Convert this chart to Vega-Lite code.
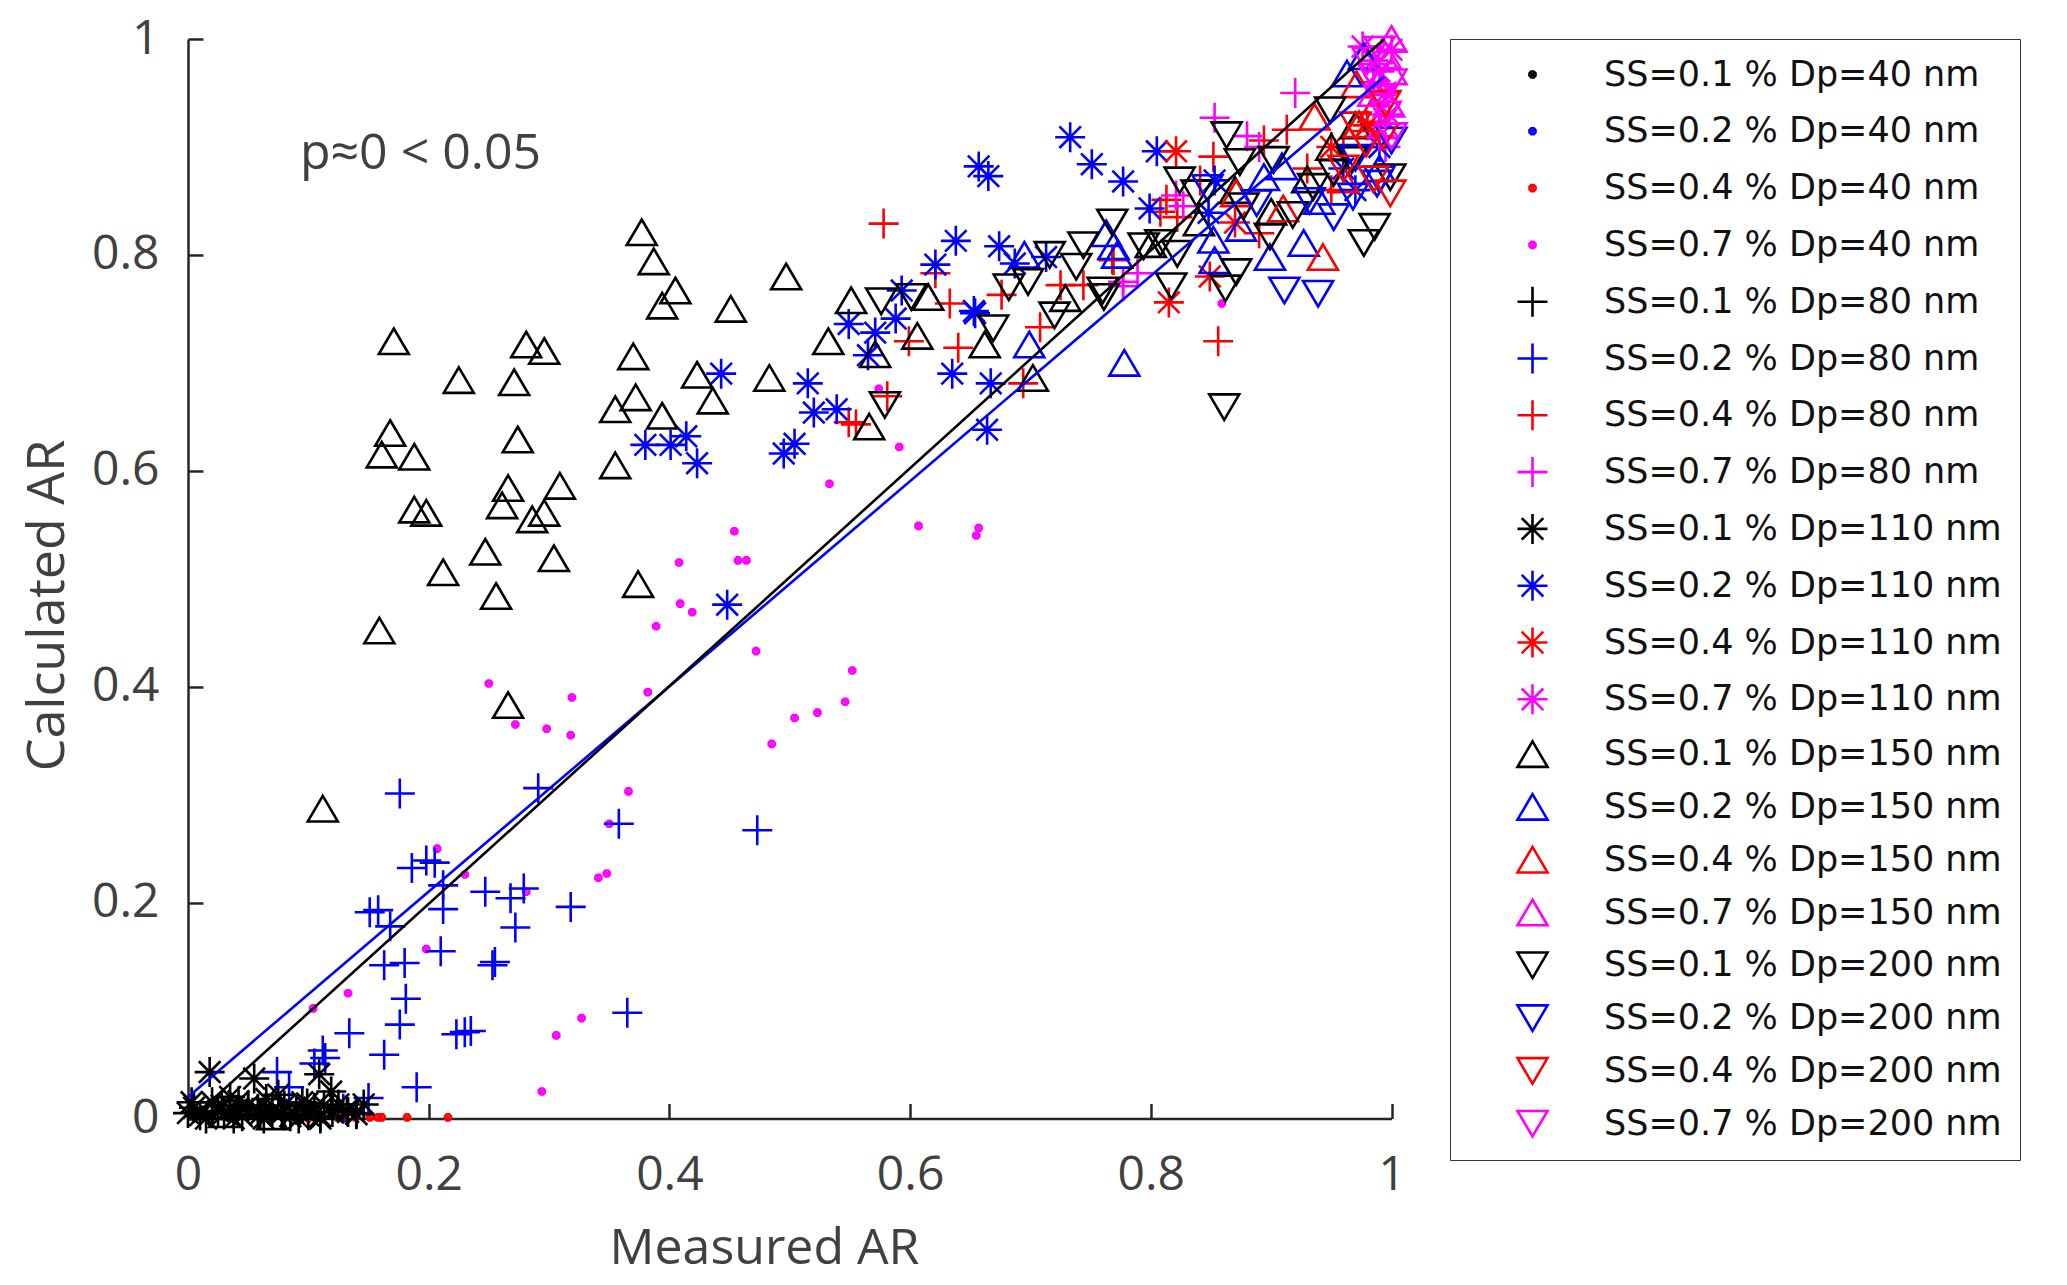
{
  "$schema": "https://vega.github.io/schema/vega-lite/v6.json",
  "width": 1203.5,
  "height": 1079.5,
  "autosize": {"type": "none"},
  "padding": {"left": 188, "top": 39, "right": 675.5, "bottom": 166.5},
  "background": "white",
  "config": {"view": {"stroke": null}, "font": "Open Sans"},
  "layer": [
    {
      "data": {
        "values": [
          {"x": 0.005, "y": 0.002, "g": "0.1|40"}, {"x": 0.02, "y": 0.004, "g": "0.1|40"}, {"x": 0.035, "y": 0.001, "g": "0.1|40"},
          {"x": 0.05, "y": 0.006, "g": "0.1|40"}, {"x": 0.065, "y": 0.003, "g": "0.1|40"}, {"x": 0.08, "y": 0.002, "g": "0.1|40"},
          {"x": 0.1, "y": 0.004, "g": "0.1|40"}, {"x": 0.012, "y": 0.008, "g": "0.1|40"}, {"x": 0.045, "y": 0.01, "g": "0.1|40"},
          {"x": 0.07, "y": 0.0, "g": "0.1|40"},
          {"x": 0.01, "y": 0.003, "g": "0.2|40"}, {"x": 0.03, "y": 0.006, "g": "0.2|40"}, {"x": 0.06, "y": 0.002, "g": "0.2|40"},
          {"x": 0.09, "y": 0.001, "g": "0.2|40"}, {"x": 0.11, "y": 0.003, "g": "0.2|40"},
          {"x": 0.087, "y": 0.001, "g": "0.4|40"}, {"x": 0.1, "y": 0.0, "g": "0.4|40"}, {"x": 0.11, "y": 0.001, "g": "0.4|40"},
          {"x": 0.124, "y": 0.001, "g": "0.4|40"}, {"x": 0.129, "y": 0.0, "g": "0.4|40"}, {"x": 0.139, "y": 0.001, "g": "0.4|40"},
          {"x": 0.151, "y": 0.001, "g": "0.4|40"}, {"x": 0.158, "y": 0.001, "g": "0.4|40"}, {"x": 0.161, "y": 0.001, "g": "0.4|40"},
          {"x": 0.182, "y": 0.001, "g": "0.4|40"}, {"x": 0.216, "y": 0.001, "g": "0.4|40"}, {"x": 0.06, "y": 0.0, "g": "0.4|40"},
          {"x": 0.04, "y": 0.001, "g": "0.4|40"},
          {"x": 0.408, "y": 0.515, "g": "0.7|40"}, {"x": 0.409, "y": 0.477, "g": "0.7|40"}, {"x": 0.419, "y": 0.469, "g": "0.7|40"},
          {"x": 0.389, "y": 0.456, "g": "0.7|40"}, {"x": 0.25, "y": 0.403, "g": "0.7|40"}, {"x": 0.319, "y": 0.39, "g": "0.7|40"},
          {"x": 0.382, "y": 0.395, "g": "0.7|40"}, {"x": 0.272, "y": 0.365, "g": "0.7|40"}, {"x": 0.298, "y": 0.361, "g": "0.7|40"},
          {"x": 0.318, "y": 0.355, "g": "0.7|40"}, {"x": 0.366, "y": 0.303, "g": "0.7|40"}, {"x": 0.35, "y": 0.273, "g": "0.7|40"},
          {"x": 0.207, "y": 0.25, "g": "0.7|40"}, {"x": 0.23, "y": 0.226, "g": "0.7|40"}, {"x": 0.341, "y": 0.223, "g": "0.7|40"},
          {"x": 0.348, "y": 0.227, "g": "0.7|40"}, {"x": 0.281, "y": 0.21, "g": "0.7|40"}, {"x": 0.198, "y": 0.157, "g": "0.7|40"},
          {"x": 0.133, "y": 0.116, "g": "0.7|40"}, {"x": 0.104, "y": 0.102, "g": "0.7|40"}, {"x": 0.327, "y": 0.093, "g": "0.7|40"},
          {"x": 0.306, "y": 0.077, "g": "0.7|40"}, {"x": 0.294, "y": 0.025, "g": "0.7|40"}, {"x": 0.472, "y": 0.433, "g": "0.7|40"},
          {"x": 0.552, "y": 0.415, "g": "0.7|40"}, {"x": 0.546, "y": 0.386, "g": "0.7|40"}, {"x": 0.523, "y": 0.376, "g": "0.7|40"},
          {"x": 0.504, "y": 0.371, "g": "0.7|40"}, {"x": 0.485, "y": 0.347, "g": "0.7|40"}, {"x": 0.457, "y": 0.517, "g": "0.7|40"},
          {"x": 0.464, "y": 0.517, "g": "0.7|40"}, {"x": 0.454, "y": 0.544, "g": "0.7|40"}, {"x": 0.533, "y": 0.588, "g": "0.7|40"},
          {"x": 0.591, "y": 0.622, "g": "0.7|40"}, {"x": 0.574, "y": 0.676, "g": "0.7|40"}, {"x": 0.607, "y": 0.549, "g": "0.7|40"},
          {"x": 0.657, "y": 0.547, "g": "0.7|40"}, {"x": 0.655, "y": 0.54, "g": "0.7|40"}, {"x": 0.859, "y": 0.755, "g": "0.7|40"},
          {"x": 0.02, "y": 0.005, "g": "0.1|80"}, {"x": 0.05, "y": 0.01, "g": "0.1|80"}, {"x": 0.08, "y": 0.003, "g": "0.1|80"},
          {"x": 0.176, "y": 0.301, "g": "0.2|80"}, {"x": 0.291, "y": 0.306, "g": "0.2|80"}, {"x": 0.358, "y": 0.273, "g": "0.2|80"},
          {"x": 0.186, "y": 0.232, "g": "0.2|80"}, {"x": 0.198, "y": 0.239, "g": "0.2|80"}, {"x": 0.205, "y": 0.237, "g": "0.2|80"},
          {"x": 0.212, "y": 0.216, "g": "0.2|80"}, {"x": 0.247, "y": 0.21, "g": "0.2|80"}, {"x": 0.268, "y": 0.204, "g": "0.2|80"},
          {"x": 0.279, "y": 0.213, "g": "0.2|80"}, {"x": 0.318, "y": 0.196, "g": "0.2|80"}, {"x": 0.151, "y": 0.191, "g": "0.2|80"},
          {"x": 0.158, "y": 0.193, "g": "0.2|80"}, {"x": 0.168, "y": 0.178, "g": "0.2|80"}, {"x": 0.212, "y": 0.194, "g": "0.2|80"},
          {"x": 0.272, "y": 0.177, "g": "0.2|80"}, {"x": 0.21, "y": 0.155, "g": "0.2|80"}, {"x": 0.163, "y": 0.142, "g": "0.2|80"},
          {"x": 0.18, "y": 0.144, "g": "0.2|80"}, {"x": 0.253, "y": 0.142, "g": "0.2|80"}, {"x": 0.255, "y": 0.145, "g": "0.2|80"},
          {"x": 0.181, "y": 0.111, "g": "0.2|80"}, {"x": 0.365, "y": 0.098, "g": "0.2|80"}, {"x": 0.134, "y": 0.079, "g": "0.2|80"},
          {"x": 0.176, "y": 0.087, "g": "0.2|80"}, {"x": 0.223, "y": 0.078, "g": "0.2|80"}, {"x": 0.23, "y": 0.08, "g": "0.2|80"},
          {"x": 0.235, "y": 0.081, "g": "0.2|80"}, {"x": 0.114, "y": 0.056, "g": "0.2|80"}, {"x": 0.105, "y": 0.051, "g": "0.2|80"},
          {"x": 0.163, "y": 0.059, "g": "0.2|80"}, {"x": 0.19, "y": 0.029, "g": "0.2|80"}, {"x": 0.074, "y": 0.043, "g": "0.2|80"},
          {"x": 0.084, "y": 0.029, "g": "0.2|80"}, {"x": 0.15, "y": 0.019, "g": "0.2|80"}, {"x": 0.129, "y": 0.009, "g": "0.2|80"},
          {"x": 0.473, "y": 0.267, "g": "0.2|80"}, {"x": 0.14, "y": 0.005, "g": "0.2|80"}, {"x": 0.112, "y": 0.063, "g": "0.2|80"},
          {"x": 0.578, "y": 0.829, "g": "0.4|80"}, {"x": 0.621, "y": 0.783, "g": "0.4|80"}, {"x": 0.633, "y": 0.755, "g": "0.4|80"},
          {"x": 0.599, "y": 0.72, "g": "0.4|80"}, {"x": 0.64, "y": 0.714, "g": "0.4|80"}, {"x": 0.676, "y": 0.763, "g": "0.4|80"},
          {"x": 0.708, "y": 0.733, "g": "0.4|80"}, {"x": 0.725, "y": 0.772, "g": "0.4|80"}, {"x": 0.744, "y": 0.772, "g": "0.4|80"},
          {"x": 0.768, "y": 0.796, "g": "0.4|80"}, {"x": 0.581, "y": 0.669, "g": "0.4|80"}, {"x": 0.549, "y": 0.645, "g": "0.4|80"},
          {"x": 0.555, "y": 0.643, "g": "0.4|80"}, {"x": 0.694, "y": 0.681, "g": "0.4|80"}, {"x": 0.852, "y": 0.891, "g": "0.4|80"},
          {"x": 0.894, "y": 0.906, "g": "0.4|80"}, {"x": 0.913, "y": 0.916, "g": "0.4|80"}, {"x": 0.813, "y": 0.851, "g": "0.4|80"},
          {"x": 0.822, "y": 0.835, "g": "0.4|80"}, {"x": 0.769, "y": 0.795, "g": "0.4|80"}, {"x": 0.808, "y": 0.84, "g": "0.4|80"},
          {"x": 0.841, "y": 0.869, "g": "0.4|80"}, {"x": 0.89, "y": 0.82, "g": "0.4|80"}, {"x": 0.856, "y": 0.72, "g": "0.4|80"},
          {"x": 0.93, "y": 0.88, "g": "0.4|80"}, {"x": 0.96, "y": 0.9, "g": "0.4|80"}, {"x": 0.95, "y": 0.86, "g": "0.4|80"},
          {"x": 0.777, "y": 0.771, "g": "0.7|80"}, {"x": 0.789, "y": 0.783, "g": "0.7|80"}, {"x": 0.92, "y": 0.95, "g": "0.7|80"},
          {"x": 0.853, "y": 0.927, "g": "0.7|80"}, {"x": 0.88, "y": 0.91, "g": "0.7|80"}, {"x": 0.821, "y": 0.855, "g": "0.7|80"},
          {"x": 0.827, "y": 0.845, "g": "0.7|80"}, {"x": 0.777, "y": 0.775, "g": "0.7|80"}, {"x": 0.89, "y": 0.9, "g": "0.7|80"},
          {"x": 0.985, "y": 0.96, "g": "0.7|80"}, {"x": 0.99, "y": 0.93, "g": "0.7|80"}, {"x": 0.995, "y": 0.9, "g": "0.7|80"},
          {"x": 0.018, "y": 0.043, "g": "0.1|110"}, {"x": 0.055, "y": 0.037, "g": "0.1|110"}, {"x": 0.109, "y": 0.041, "g": "0.1|110"},
          {"x": 0.119, "y": 0.025, "g": "0.1|110"}, {"x": 0.146, "y": 0.013, "g": "0.1|110"}, {"x": 0.133, "y": 0.006, "g": "0.1|110"},
          {"x": 0.075, "y": 0.022, "g": "0.1|110"}, {"x": 0.005, "y": 0.01, "g": "0.1|110"}, {"x": 0.01, "y": 0.003, "g": "0.1|110"},
          {"x": 0.02, "y": 0.015, "g": "0.1|110"}, {"x": 0.03, "y": 0.005, "g": "0.1|110"}, {"x": 0.035, "y": 0.02, "g": "0.1|110"},
          {"x": 0.04, "y": 0.008, "g": "0.1|110"}, {"x": 0.045, "y": 0.002, "g": "0.1|110"}, {"x": 0.05, "y": 0.012, "g": "0.1|110"},
          {"x": 0.06, "y": 0.004, "g": "0.1|110"}, {"x": 0.065, "y": 0.018, "g": "0.1|110"}, {"x": 0.07, "y": 0.007, "g": "0.1|110"},
          {"x": 0.08, "y": 0.012, "g": "0.1|110"}, {"x": 0.085, "y": 0.002, "g": "0.1|110"}, {"x": 0.09, "y": 0.008, "g": "0.1|110"},
          {"x": 0.095, "y": 0.015, "g": "0.1|110"}, {"x": 0.1, "y": 0.003, "g": "0.1|110"}, {"x": 0.105, "y": 0.01, "g": "0.1|110"},
          {"x": 0.11, "y": 0.002, "g": "0.1|110"}, {"x": 0.12, "y": 0.006, "g": "0.1|110"}, {"x": 0.125, "y": 0.013, "g": "0.1|110"},
          {"x": 0.015, "y": 0.0, "g": "0.1|110"}, {"x": 0.025, "y": 0.007, "g": "0.1|110"}, {"x": 0.0, "y": 0.005, "g": "0.1|110"},
          {"x": 0.003, "y": 0.015, "g": "0.1|110"}, {"x": 0.028, "y": 0.012, "g": "0.1|110"}, {"x": 0.042, "y": 0.016, "g": "0.1|110"},
          {"x": 0.058, "y": 0.009, "g": "0.1|110"}, {"x": 0.078, "y": 0.005, "g": "0.1|110"}, {"x": 0.092, "y": 0.0, "g": "0.1|110"},
          {"x": 0.113, "y": 0.012, "g": "0.1|110"}, {"x": 0.14, "y": 0.004, "g": "0.1|110"}, {"x": 0.063, "y": 0.0, "g": "0.1|110"},
          {"x": 0.038, "y": 0.0, "g": "0.1|110"}, {"x": 0.132, "y": 0.008, "g": "0.1|110"}, {"x": 0.11, "y": 0.0, "g": "0.1|110"},
          {"x": 0.099, "y": 0.014, "g": "0.1|110"},
          {"x": 0.38, "y": 0.624, "g": "0.2|110"}, {"x": 0.401, "y": 0.624, "g": "0.2|110"}, {"x": 0.414, "y": 0.632, "g": "0.2|110"},
          {"x": 0.423, "y": 0.607, "g": "0.2|110"}, {"x": 0.448, "y": 0.476, "g": "0.2|110"}, {"x": 0.733, "y": 0.909, "g": "0.2|110"},
          {"x": 0.751, "y": 0.884, "g": "0.2|110"}, {"x": 0.777, "y": 0.868, "g": "0.2|110"}, {"x": 0.799, "y": 0.843, "g": "0.2|110"},
          {"x": 0.805, "y": 0.896, "g": "0.2|110"}, {"x": 0.657, "y": 0.882, "g": "0.2|110"}, {"x": 0.665, "y": 0.873, "g": "0.2|110"},
          {"x": 0.638, "y": 0.813, "g": "0.2|110"}, {"x": 0.621, "y": 0.791, "g": "0.2|110"}, {"x": 0.674, "y": 0.808, "g": "0.2|110"},
          {"x": 0.687, "y": 0.792, "g": "0.2|110"}, {"x": 0.713, "y": 0.798, "g": "0.2|110"}, {"x": 0.593, "y": 0.767, "g": "0.2|110"},
          {"x": 0.588, "y": 0.741, "g": "0.2|110"}, {"x": 0.549, "y": 0.736, "g": "0.2|110"}, {"x": 0.571, "y": 0.728, "g": "0.2|110"},
          {"x": 0.565, "y": 0.707, "g": "0.2|110"}, {"x": 0.653, "y": 0.748, "g": "0.2|110"}, {"x": 0.654, "y": 0.746, "g": "0.2|110"},
          {"x": 0.443, "y": 0.69, "g": "0.2|110"}, {"x": 0.515, "y": 0.681, "g": "0.2|110"}, {"x": 0.52, "y": 0.654, "g": "0.2|110"},
          {"x": 0.539, "y": 0.657, "g": "0.2|110"}, {"x": 0.495, "y": 0.616, "g": "0.2|110"}, {"x": 0.504, "y": 0.625, "g": "0.2|110"},
          {"x": 0.635, "y": 0.69, "g": "0.2|110"}, {"x": 0.667, "y": 0.681, "g": "0.2|110"}, {"x": 0.664, "y": 0.638, "g": "0.2|110"},
          {"x": 0.853, "y": 0.869, "g": "0.2|110"}, {"x": 0.848, "y": 0.839, "g": "0.2|110"}, {"x": 0.96, "y": 0.88, "g": "0.2|110"},
          {"x": 0.99, "y": 0.9, "g": "0.2|110"}, {"x": 0.97, "y": 0.86, "g": "0.2|110"},
          {"x": 0.821, "y": 0.896, "g": "0.4|110"}, {"x": 0.815, "y": 0.756, "g": "0.4|110"}, {"x": 0.849, "y": 0.78, "g": "0.4|110"},
          {"x": 0.87, "y": 0.83, "g": "0.4|110"}, {"x": 0.95, "y": 0.9, "g": "0.4|110"}, {"x": 0.98, "y": 0.92, "g": "0.4|110"},
          {"x": 0.976, "y": 0.993, "g": "0.7|110"}, {"x": 0.99, "y": 0.97, "g": "0.7|110"}, {"x": 0.995, "y": 0.95, "g": "0.7|110"},
          {"x": 0.985, "y": 0.98, "g": "0.7|110"}, {"x": 1.0, "y": 0.99, "g": "0.7|110"}, {"x": 0.998, "y": 0.93, "g": "0.7|110"},
          {"x": 0.99, "y": 0.91, "g": "0.7|110"},
          {"x": 0.377, "y": 0.821, "g": "0.1|150"}, {"x": 0.387, "y": 0.794, "g": "0.1|150"}, {"x": 0.405, "y": 0.767, "g": "0.1|150"},
          {"x": 0.394, "y": 0.753, "g": "0.1|150"}, {"x": 0.171, "y": 0.72, "g": "0.1|150"}, {"x": 0.281, "y": 0.717, "g": "0.1|150"},
          {"x": 0.296, "y": 0.711, "g": "0.1|150"}, {"x": 0.37, "y": 0.706, "g": "0.1|150"}, {"x": 0.423, "y": 0.689, "g": "0.1|150"},
          {"x": 0.225, "y": 0.684, "g": "0.1|150"}, {"x": 0.271, "y": 0.682, "g": "0.1|150"}, {"x": 0.372, "y": 0.668, "g": "0.1|150"},
          {"x": 0.436, "y": 0.665, "g": "0.1|150"}, {"x": 0.355, "y": 0.657, "g": "0.1|150"}, {"x": 0.394, "y": 0.651, "g": "0.1|150"},
          {"x": 0.168, "y": 0.635, "g": "0.1|150"}, {"x": 0.161, "y": 0.615, "g": "0.1|150"}, {"x": 0.188, "y": 0.613, "g": "0.1|150"},
          {"x": 0.274, "y": 0.629, "g": "0.1|150"}, {"x": 0.355, "y": 0.605, "g": "0.1|150"}, {"x": 0.266, "y": 0.584, "g": "0.1|150"},
          {"x": 0.309, "y": 0.586, "g": "0.1|150"}, {"x": 0.261, "y": 0.568, "g": "0.1|150"}, {"x": 0.188, "y": 0.564, "g": "0.1|150"},
          {"x": 0.198, "y": 0.561, "g": "0.1|150"}, {"x": 0.296, "y": 0.561, "g": "0.1|150"}, {"x": 0.286, "y": 0.555, "g": "0.1|150"},
          {"x": 0.247, "y": 0.525, "g": "0.1|150"}, {"x": 0.304, "y": 0.519, "g": "0.1|150"}, {"x": 0.212, "y": 0.506, "g": "0.1|150"},
          {"x": 0.256, "y": 0.484, "g": "0.1|150"}, {"x": 0.374, "y": 0.495, "g": "0.1|150"}, {"x": 0.159, "y": 0.452, "g": "0.1|150"},
          {"x": 0.266, "y": 0.383, "g": "0.1|150"}, {"x": 0.112, "y": 0.287, "g": "0.1|150"}, {"x": 0.497, "y": 0.78, "g": "0.1|150"},
          {"x": 0.451, "y": 0.75, "g": "0.1|150"}, {"x": 0.551, "y": 0.758, "g": "0.1|150"}, {"x": 0.615, "y": 0.761, "g": "0.1|150"},
          {"x": 0.532, "y": 0.72, "g": "0.1|150"}, {"x": 0.606, "y": 0.725, "g": "0.1|150"}, {"x": 0.571, "y": 0.708, "g": "0.1|150"},
          {"x": 0.483, "y": 0.686, "g": "0.1|150"}, {"x": 0.566, "y": 0.641, "g": "0.1|150"}, {"x": 0.662, "y": 0.717, "g": "0.1|150"},
          {"x": 0.702, "y": 0.686, "g": "0.1|150"}, {"x": 0.729, "y": 0.76, "g": "0.1|150"}, {"x": 0.8, "y": 0.81, "g": "0.1|150"},
          {"x": 0.84, "y": 0.83, "g": "0.1|150"}, {"x": 0.87, "y": 0.86, "g": "0.1|150"}, {"x": 0.9, "y": 0.84, "g": "0.1|150"},
          {"x": 0.93, "y": 0.87, "g": "0.1|150"}, {"x": 0.95, "y": 0.9, "g": "0.1|150"}, {"x": 0.97, "y": 0.92, "g": "0.1|150"},
          {"x": 0.03, "y": 0.004, "g": "0.1|150"}, {"x": 0.07, "y": 0.002, "g": "0.1|150"},
          {"x": 0.699, "y": 0.717, "g": "0.2|150"}, {"x": 0.778, "y": 0.7, "g": "0.2|150"}, {"x": 0.695, "y": 0.8, "g": "0.2|150"},
          {"x": 0.763, "y": 0.82, "g": "0.2|150"}, {"x": 0.772, "y": 0.8, "g": "0.2|150"}, {"x": 0.963, "y": 0.968, "g": "0.2|150"},
          {"x": 0.977, "y": 0.984, "g": "0.2|150"}, {"x": 0.852, "y": 0.814, "g": "0.2|150"}, {"x": 0.853, "y": 0.795, "g": "0.2|150"},
          {"x": 0.899, "y": 0.798, "g": "0.2|150"}, {"x": 0.927, "y": 0.811, "g": "0.2|150"}, {"x": 0.875, "y": 0.825, "g": "0.2|150"},
          {"x": 0.769, "y": 0.808, "g": "0.2|150"}, {"x": 0.894, "y": 0.872, "g": "0.2|150"}, {"x": 0.909, "y": 0.882, "g": "0.2|150"},
          {"x": 0.94, "y": 0.85, "g": "0.2|150"}, {"x": 0.99, "y": 0.88, "g": "0.2|150"},
          {"x": 0.943, "y": 0.798, "g": "0.4|150"}, {"x": 0.936, "y": 0.928, "g": "0.4|150"}, {"x": 0.871, "y": 0.857, "g": "0.4|150"},
          {"x": 0.973, "y": 0.921, "g": "0.4|150"}, {"x": 0.971, "y": 0.958, "g": "0.4|150"}, {"x": 0.985, "y": 0.935, "g": "0.4|150"},
          {"x": 0.91, "y": 0.843, "g": "0.4|150"}, {"x": 0.96, "y": 0.87, "g": "0.4|150"},
          {"x": 1.0, "y": 1.0, "g": "0.7|150"}, {"x": 0.995, "y": 0.985, "g": "0.7|150"}, {"x": 0.99, "y": 0.96, "g": "0.7|150"},
          {"x": 0.998, "y": 0.94, "g": "0.7|150"}, {"x": 0.985, "y": 0.95, "g": "0.7|150"}, {"x": 0.993, "y": 0.92, "g": "0.7|150"},
          {"x": 1.0, "y": 0.97, "g": "0.7|150"},
          {"x": 0.576, "y": 0.757, "g": "0.1|200"}, {"x": 0.601, "y": 0.761, "g": "0.1|200"}, {"x": 0.579, "y": 0.661, "g": "0.1|200"},
          {"x": 0.669, "y": 0.732, "g": "0.1|200"}, {"x": 0.682, "y": 0.77, "g": "0.1|200"}, {"x": 0.698, "y": 0.775, "g": "0.1|200"},
          {"x": 0.716, "y": 0.8, "g": "0.1|200"}, {"x": 0.738, "y": 0.789, "g": "0.1|200"}, {"x": 0.744, "y": 0.809, "g": "0.1|200"},
          {"x": 0.72, "y": 0.744, "g": "0.1|200"}, {"x": 0.76, "y": 0.767, "g": "0.1|200"}, {"x": 0.768, "y": 0.83, "g": "0.1|200"},
          {"x": 0.794, "y": 0.808, "g": "0.1|200"}, {"x": 0.863, "y": 0.911, "g": "0.1|200"}, {"x": 0.874, "y": 0.886, "g": "0.1|200"},
          {"x": 0.824, "y": 0.869, "g": "0.1|200"}, {"x": 0.838, "y": 0.857, "g": "0.1|200"}, {"x": 0.902, "y": 0.888, "g": "0.1|200"},
          {"x": 0.949, "y": 0.934, "g": "0.1|200"}, {"x": 0.935, "y": 0.863, "g": "0.1|200"}, {"x": 0.952, "y": 0.876, "g": "0.1|200"},
          {"x": 0.967, "y": 0.888, "g": "0.1|200"}, {"x": 0.877, "y": 0.845, "g": "0.1|200"}, {"x": 0.871, "y": 0.784, "g": "0.1|200"},
          {"x": 0.899, "y": 0.817, "g": "0.1|200"}, {"x": 0.918, "y": 0.837, "g": "0.1|200"}, {"x": 0.977, "y": 0.811, "g": "0.1|200"},
          {"x": 0.986, "y": 0.826, "g": "0.1|200"}, {"x": 0.999, "y": 0.872, "g": "0.1|200"}, {"x": 0.817, "y": 0.771, "g": "0.1|200"},
          {"x": 0.862, "y": 0.769, "g": "0.1|200"}, {"x": 0.808, "y": 0.811, "g": "0.1|200"}, {"x": 0.822, "y": 0.801, "g": "0.1|200"},
          {"x": 0.761, "y": 0.761, "g": "0.1|200"}, {"x": 0.861, "y": 0.659, "g": "0.1|200"},
          {"x": 0.911, "y": 0.767, "g": "0.2|200"}, {"x": 0.939, "y": 0.764, "g": "0.2|200"}, {"x": 0.952, "y": 0.835, "g": "0.2|200"},
          {"x": 0.968, "y": 0.854, "g": "0.2|200"}, {"x": 0.988, "y": 0.866, "g": "0.2|200"}, {"x": 1.0, "y": 0.906, "g": "0.2|200"},
          {"x": 0.932, "y": 0.85, "g": "0.2|200"}, {"x": 0.888, "y": 0.848, "g": "0.2|200"}, {"x": 0.847, "y": 0.862, "g": "0.2|200"},
          {"x": 0.97, "y": 0.89, "g": "0.2|200"}, {"x": 0.99, "y": 0.87, "g": "0.2|200"},
          {"x": 0.999, "y": 0.857, "g": "0.4|200"}, {"x": 0.979, "y": 0.903, "g": "0.4|200"}, {"x": 0.993, "y": 0.91, "g": "0.4|200"},
          {"x": 0.97, "y": 0.92, "g": "0.4|200"}, {"x": 0.96, "y": 0.88, "g": "0.4|200"}, {"x": 0.985, "y": 0.87, "g": "0.4|200"},
          {"x": 0.995, "y": 0.94, "g": "0.4|200"},
          {"x": 0.99, "y": 0.99, "g": "0.7|200"}, {"x": 1.0, "y": 0.96, "g": "0.7|200"}, {"x": 0.995, "y": 0.93, "g": "0.7|200"},
          {"x": 0.985, "y": 0.965, "g": "0.7|200"}, {"x": 1.0, "y": 0.91, "g": "0.7|200"}, {"x": 0.99, "y": 0.945, "g": "0.7|200"},
          {"x": 0.98, "y": 0.98, "g": "0.7|200"}
        ]
      },
      "mark": {"type": "point", "filled": false, "size": 900, "strokeWidth": 2.6, "opacity": 1},
      "encoding": {
        "x": {
          "field": "x", "type": "quantitative",
          "scale": {"domain": [0, 1], "nice": false, "zero": false},
          "axis": {
            "values": [0, 0.2, 0.4, 0.6, 0.8, 1], "format": "~g", "grid": false,
            "title": "Measured AR", "titleFontSize": 50, "titleFontWeight": "normal", "titleColor": "#404040",
            "titleX": 576, "titleY": 145, "titleBaseline": "alphabetic",
            "labelFontSize": 48, "labelColor": "#404040", "labelPadding": 48, "labelFlush": false, "labelOverlap": false,
            "tickSize": -15, "tickWidth": 2.5, "tickColor": "#262626", "domainColor": "#262626", "domainWidth": 2.5
          }
        },
        "y": {
          "field": "y", "type": "quantitative",
          "scale": {"domain": [0, 1], "nice": false, "zero": false},
          "axis": {
            "values": [0, 0.2, 0.4, 0.6, 0.8, 1], "format": "~g", "grid": false,
            "title": "Calculated AR", "titleFontSize": 52, "titleFontWeight": "normal", "titleColor": "#404040",
            "titleX": -125, "titleY": 566, "titleBaseline": "alphabetic",
            "labelFontSize": 48, "labelColor": "#404040", "labelPadding": 44, "labelFlush": false, "labelOverlap": false,
            "tickSize": -15, "tickWidth": 2.5, "tickColor": "#262626", "domainColor": "#262626", "domainWidth": 2.5
          }
        },
        "color": {
          "field": "g", "type": "nominal",
          "scale": {
            "domain": ["0.1|40", "0.2|40", "0.4|40", "0.7|40", "0.1|80", "0.2|80", "0.4|80", "0.7|80", "0.1|110", "0.2|110", "0.4|110", "0.7|110", "0.1|150", "0.2|150", "0.4|150", "0.7|150", "0.1|200", "0.2|200", "0.4|200", "0.7|200"],
            "range": ["#000000", "#0000ff", "#ff0000", "#ff00ff", "#000000", "#0000ff", "#ff0000", "#ff00ff", "#000000", "#0000ff", "#ff0000", "#ff00ff", "#000000", "#0000ff", "#ff0000", "#ff00ff", "#000000", "#0000ff", "#ff0000", "#ff00ff"]
          },
          "legend": {
            "title": null, "orient": "none", "legendX": 1262, "legendY": 0,
            "labelExpr": "'SS=' + split(datum.label, '|')[0] + ' % Dp=' + split(datum.label, '|')[1] + ' nm'",
            "labelFont": "DejaVu Sans", "labelFontSize": 35, "labelColor": "#111111", "labelLimit": 700,
            "symbolSize": 900, "symbolStrokeWidth": 2.6, "symbolOffset": 47, "labelOffset": 54,
            "padding": 18, "rowPadding": 15.8, "strokeColor": "#333333", "fillColor": "white"
          }
        },
        "shape": {
          "field": "g", "type": "nominal",
          "scale": {
            "domain": ["0.1|40", "0.2|40", "0.4|40", "0.7|40", "0.1|80", "0.2|80", "0.4|80", "0.7|80", "0.1|110", "0.2|110", "0.4|110", "0.7|110", "0.1|150", "0.2|150", "0.4|150", "0.7|150", "0.1|200", "0.2|200", "0.4|200", "0.7|200"],
            "range": [
              "M-1,-1M1,1M-0.2,-0.083L-0.083,-0.2L0.083,-0.2L0.2,-0.083L0.2,0.083L0.083,0.2L-0.083,0.2L-0.2,0.083ZM-0.1,0H0.1M0,-0.1V0.1", "M-1,-1M1,1M-0.2,-0.083L-0.083,-0.2L0.083,-0.2L0.2,-0.083L0.2,0.083L0.083,0.2L-0.083,0.2L-0.2,0.083ZM-0.1,0H0.1M0,-0.1V0.1", "M-1,-1M1,1M-0.2,-0.083L-0.083,-0.2L0.083,-0.2L0.2,-0.083L0.2,0.083L0.083,0.2L-0.083,0.2L-0.2,0.083ZM-0.1,0H0.1M0,-0.1V0.1", "M-1,-1M1,1M-0.2,-0.083L-0.083,-0.2L0.083,-0.2L0.2,-0.083L0.2,0.083L0.083,0.2L-0.083,0.2L-0.2,0.083ZM-0.1,0H0.1M0,-0.1V0.1",
              "M-1,0H1M0,-1V1", "M-1,0H1M0,-1V1", "M-1,0H1M0,-1V1", "M-1,0H1M0,-1V1",
              "M-1,0H1M0,-1V1M-0.72,-0.72L0.72,0.72M-0.72,0.72L0.72,-0.72", "M-1,0H1M0,-1V1M-0.72,-0.72L0.72,0.72M-0.72,0.72L0.72,-0.72", "M-1,0H1M0,-1V1M-0.72,-0.72L0.72,0.72M-0.72,0.72L0.72,-0.72", "M-1,0H1M0,-1V1M-0.72,-0.72L0.72,0.72M-0.72,0.72L0.72,-0.72",
              "M0,-0.85L1,0.85L-1,0.85Z", "M0,-0.85L1,0.85L-1,0.85Z", "M0,-0.85L1,0.85L-1,0.85Z", "M0,-0.85L1,0.85L-1,0.85Z",
              "M0,0.85L1,-0.85L-1,-0.85Z", "M0,0.85L1,-0.85L-1,-0.85Z", "M0,0.85L1,-0.85L-1,-0.85Z", "M0,0.85L1,-0.85L-1,-0.85Z"
            ]
          },
          "legend": {
            "title": null, "orient": "none", "legendX": 1262, "legendY": 0,
            "labelExpr": "'SS=' + split(datum.label, '|')[0] + ' % Dp=' + split(datum.label, '|')[1] + ' nm'",
            "labelFont": "DejaVu Sans", "labelFontSize": 35, "labelColor": "#111111", "labelLimit": 700,
            "symbolSize": 900, "symbolStrokeWidth": 2.6, "symbolOffset": 47, "labelOffset": 54,
            "padding": 18, "rowPadding": 15.8, "strokeColor": "#333333", "fillColor": "white"
          }
        }
      }
    },
    {
      "data": {
        "values": [
          {"x": 0.0, "y": 0.02, "c": "#0000ff"}, {"x": 0.994, "y": 0.965, "c": "#0000ff"},
          {"x": 0.003, "y": 0.0, "c": "#000000"}, {"x": 0.994, "y": 1.0, "c": "#000000"}
        ]
      },
      "mark": {"type": "line", "strokeWidth": 2.6},
      "encoding": {
        "x": {"field": "x", "type": "quantitative"},
        "y": {"field": "y", "type": "quantitative"},
        "stroke": {"field": "c", "type": "nominal", "scale": null, "legend": null}
      }
    },
    {
      "data": {"values": [{"x": 0.093, "y": 0.88, "t": "p≈0 < 0.05"}]},
      "mark": {"type": "text", "align": "left", "baseline": "alphabetic", "fontSize": 50, "color": "#404040", "font": "Open Sans"},
      "encoding": {
        "x": {"field": "x", "type": "quantitative"},
        "y": {"field": "y", "type": "quantitative"},
        "text": {"field": "t"}
      }
    }
  ]
}
